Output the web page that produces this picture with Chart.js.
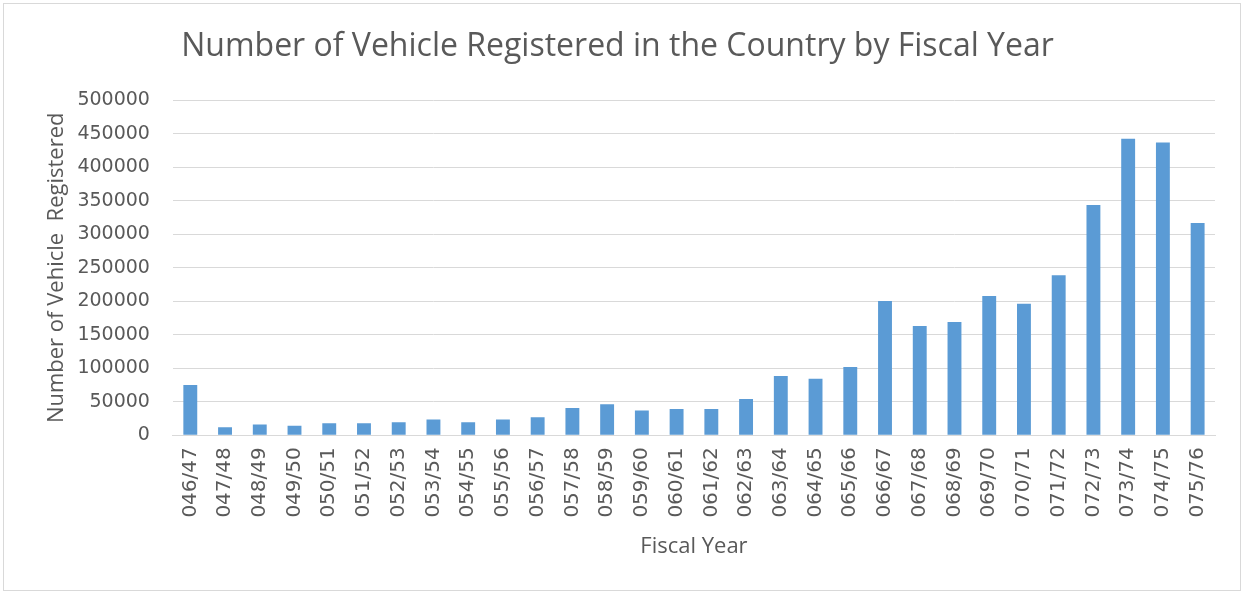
<!DOCTYPE html>
<html>
<head>
<meta charset="utf-8">
<script src="https://cdn.jsdelivr.net/npm/chart.js@4/dist/chart.umd.min.js"></script>
<style>
html,body{margin:0;padding:0;background:#fff;}
#frame{position:absolute;left:3px;top:3px;width:1238px;height:588px;border:1px solid #d9d9d9;box-sizing:border-box;}
#wrap{position:absolute;left:0;top:0;width:1244px;height:594px;}
</style>
</head>
<body>
<div id="frame"></div>
<div id="wrap"><canvas id="c" width="1244" height="594"></canvas></div>
<script>
const categories = ["046/47","047/48","048/49","049/50","050/51","051/52","052/53","053/54","054/55","055/56","056/57","057/58","058/59","059/60","060/61","061/62","062/63","063/64","064/65","065/66","066/67","067/68","068/69","069/70","070/71","071/72","072/73","073/74","074/75","075/76"];
const vehicles = [75000,12000,16000,14000,18000,18000,19500,23500,19500,23500,27000,40500,46400,37000,39000,39000,54000,88300,84300,101800,200600,163000,169000,208000,196500,239000,343800,442600,437100,316900];
const yTicks = {min:0, max:500000, step:50000};
const FONT = "'Open Sans', sans-serif";
const TICKFONT = "'DejaVu Sans', sans-serif";
const TXT = "#595959";

new Chart(document.getElementById('c'), {
  type: 'bar',
  data: {
    labels: categories,
    datasets: [{
      label: 'Vehicles',
      data: vehicles,
      backgroundColor: '#5B9BD5',
      borderWidth: 0,
      barPercentage: 0.4,
      categoryPercentage: 1.0
    }]
  },
  options: {
    responsive: false,
    animation: false,
    devicePixelRatio: 1,
    layout: {padding: {left: 20, right: 29, top: 0, bottom: 34}},
    plugins: {
      legend: {display: false},
      tooltip: {enabled: false},
      title: {
        display: true,
        text: 'Number of Vehicle Registered in the Country by Fiscal Year',
        color: TXT,
        font: {family: FONT, size: 32, weight: 'normal'},
        padding: {top: 28, bottom: 34}
      }
    },
    scales: {
      x: {
        grid: {display: false, drawTicks: false},
        border: {display: true, color: '#d9d9d9', width: 1},
        ticks: {color: TXT, font: {family: TICKFONT, size: 20}, minRotation: 90, maxRotation: 90, padding: 12, autoSkip: false},
        title: {display: true, text: 'Fiscal Year', color: TXT, font: {family: FONT, size: 22}, padding: {top: 4, bottom: 0}}
      },
      y: {
        min: yTicks.min, max: yTicks.max,
        grid: {color: '#d9d9d9', drawTicks: false},
        border: {display: false},
        ticks: {stepSize: yTicks.step, color: TXT, font: {family: TICKFONT, size: 19}, padding: 23,
                callback: (v) => String(v)},
        title: {display: true, text: 'Number of Vehicle  Registered', color: TXT, font: {family: FONT, size: 22}, padding: {top: 24, bottom: -16}}
      }
    }
  }
});
</script>
</body>
</html>
